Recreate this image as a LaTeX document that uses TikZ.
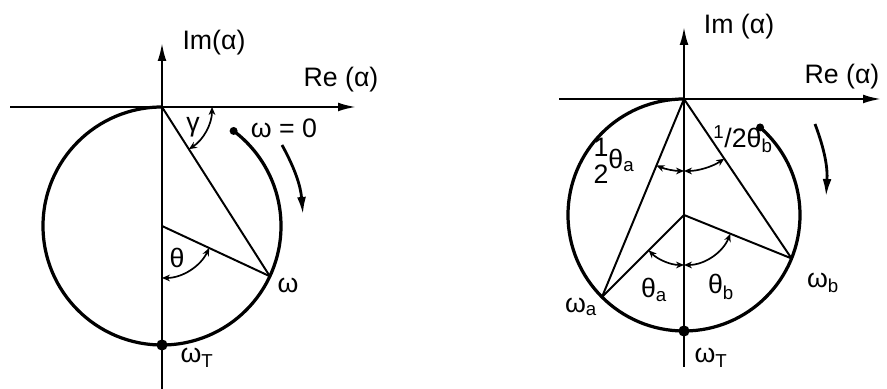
\documentclass[tikz,border=0pt]{standalone}
\usepackage{fontspec}
\setmainfont{Liberation Sans}
\usetikzlibrary{calc,arrows.meta}
\tikzset{
  axis/.style={-{Latex[length=4.5mm,width=2.2mm]}, line width=1.5pt},
  locus/.style={line width=2.3pt},
  ray/.style={line width=1.4pt},
  anglemark/.style={{Stealth[length=2mm,width=1.7mm]}-{Stealth[length=2mm,width=1.7mm]}, line width=1.2pt},
  sense/.style={-{Latex[length=4.5mm,width=2.2mm]}, line width=2pt},
  lbl/.style={font=\fontsize{19}{22}\selectfont, inner sep=1pt},
  pt/.style={circle, fill=black, inner sep=0pt, minimum size=2.8mm},
  smallpt/.style={circle, fill=black, inner sep=0pt, minimum size=2mm}
}

\begin{document}
\begin{tikzpicture}[x=0.25mm, y=0.25mm]
  \useasboundingbox (0,0) rectangle (887,389);

  % left: single frequency
  \coordinate (O1) at (162,282);
  \coordinate (C1) at (162,163);
  \coordinate (T1) at (162,44);
  \coordinate (w) at ($(C1)+(-25:119)$);
  \coordinate (w0) at ($(C1)+(53:119)$);
  \coordinate (imlo1) at (162,0);
  \coordinate (imhi1) at (162,346);
  \coordinate (relo1) at (10,282);
  \coordinate (rehi1) at (356,282);
  \coordinate (sensea1) at (282,244);
  \coordinate (senseb1) at (303,174);

  \draw[axis] (imlo1) -- (imhi1);
  \draw[axis] (relo1) -- (rehi1);
  \draw[locus] (O1) arc[start angle=90, end angle=413, radius=119];
  \draw[ray] (O1) -- (w);
  \draw[ray] (C1) -- (w);
  \draw[anglemark] ($(O1)+(-57.5:50)$) arc[start angle=-57.5, end angle=0, radius=50];
  \draw[anglemark] ($(C1)+(-90:52)$) arc[start angle=-90, end angle=-25, radius=52];
  \draw[sense] (sensea1) to[bend left=12] (senseb1);
  \node[pt] (dotT1) at (T1) {};
  \node[smallpt] (dot01) at (w0) {};

  \node[lbl] (im1) at (214,346) {Im(α)};
  \node[lbl] (re1) at (341,309) {Re (α)};
  \node[lbl] (gamma1) at (193,262) {γ};
  \node[lbl] (wzero1) at (284,261) {ω = 0};
  \node[lbl] (theta1) at (177,131) {θ};
  \node[lbl] (wlab1) at (288,104) {ω};
  \node[lbl] (wT1) at (197,31) {ω\textsubscript{T}};

  % right: two frequencies
  \coordinate (O2) at (684,290);
  \coordinate (C2) at (684,174);
  \coordinate (T2) at (684,58);
  \coordinate (wa) at ($(C2)+(225:116)$);
  \coordinate (wb) at ($(C2)+(-22:116)$);
  \coordinate (w02) at ($(C2)+(49:116)$);
  \coordinate (imlo2) at (684,22);
  \coordinate (imhi2) at (684,362);
  \coordinate (relo2) at (559,290);
  \coordinate (rehi2) at (881,290);
  \coordinate (sensea2) at (815,265);
  \coordinate (senseb2) at (826,192);

  \draw[axis] (imlo2) -- (imhi2);
  \draw[axis] (relo2) -- (rehi2);
  \draw[locus] (O2) arc[start angle=90, end angle=409, radius=116];
  \draw[ray] (O2) -- (wa);
  \draw[ray] (O2) -- (wb);
  \draw[ray] (C2) -- (wa);
  \draw[ray] (C2) -- (wb);
  \draw[anglemark] ($(O2)+(-112.5:72)$) arc[start angle=-112.5, end angle=-90, radius=72];
  \draw[anglemark] ($(O2)+(-90:72)$) arc[start angle=-90, end angle=-56, radius=72];
  \draw[anglemark] ($(C2)+(-135:50)$) arc[start angle=-135, end angle=-90, radius=50];
  \draw[anglemark] ($(C2)+(-90:50)$) arc[start angle=-90, end angle=-22, radius=50];
  \draw[sense] (sensea2) to[bend left=12] (senseb2);
  \node[pt] (dotT2) at (T2) {};
  \node[smallpt] (dot02) at (w02) {};

  \node[lbl] (im2) at (739,362) {Im (α)};
  \node[lbl] (re2) at (842,312) {Re (α)};
  \node[lbl] (halfa) at (614,228) {\raisebox{-1.1ex}{\shortstack{1\\[3pt]2}}θ\textsubscript{a}};
  \node[lbl] (halfb) at (743,250) {\textsuperscript{1}/2θ\textsubscript{b}};
  \node[lbl] (thetaa) at (654,99) {θ\textsubscript{a}};
  \node[lbl] (thetab) at (721,102) {θ\textsubscript{b}};
  \node[lbl] (walab) at (581,82) {ω\textsubscript{a}};
  \node[lbl] (wblab) at (823,106) {ω\textsubscript{b}};
  \node[lbl] (wT2) at (711,31) {ω\textsubscript{T}};
\end{tikzpicture}
\end{document}
